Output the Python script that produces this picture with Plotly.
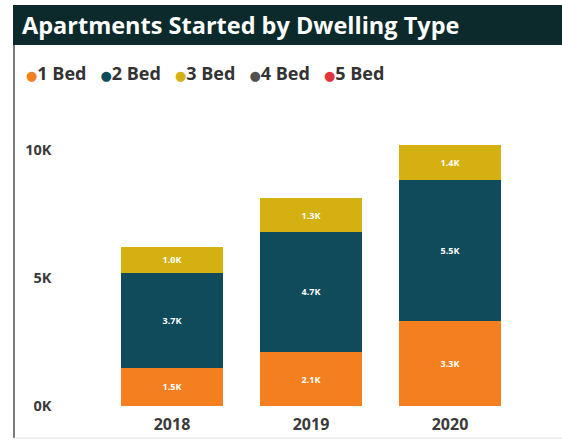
import plotly.graph_objects as go

# Apartment starts by dwelling type, per year (units)
years = ["2018", "2019", "2020"]
series_names = ["1 Bed", "2 Bed", "3 Bed", "4 Bed", "5 Bed"]
bed1 = [1500, 2100, 3300]
bed2 = [3700, 4700, 5500]
bed3 = [1000, 1300, 1400]
bed4 = [0, 0, 0]
bed5 = [0, 0, 0]
y_tick_vals = [0, 5000, 10000]
y_tick_text = ["0K", "5K", "10K"]

colors = ["#F47F1F", "#0F4B5B", "#D4B111", "#505050", "#E0353B"]
W, H = 562, 441

fig = go.Figure()
for name, vals, col in zip(series_names, [bed1, bed2, bed3, bed4, bed5], colors):
    labels = [f"{v / 1000:.1f}K" if v > 0 else "" for v in vals]
    fig.add_trace(go.Bar(
        x=years, y=vals, name=name, marker=dict(color=col, line=dict(width=0)),
        text=labels, textposition="inside", insidetextanchor="middle",
        textangle=0, textfont=dict(color="white", size=9, family="Open Sans", weight=700),
        showlegend=False,
    ))

# plot area in pixels
px_l, px_r, px_top, px_bot = 102.5, 519.5, 124, 406

fig.update_layout(
    width=W, height=H, barmode="stack", bargap=0.26,
    margin=dict(l=0, r=0, t=0, b=0),
    paper_bgcolor="white", plot_bgcolor="white",
    font=dict(family="Open Sans", color="#333333"),
    xaxis=dict(domain=[px_l / W, px_r / W], automargin=False,
               showgrid=False, showline=False, ticks="", ticklabelstandoff=7,
               tickfont=dict(size=16, color="#3a3a3a", weight=700)),
    yaxis=dict(domain=[1 - px_bot / H, 1 - px_top / H], automargin=False,
               range=[0, 11000], showgrid=False, zeroline=False, showline=False,
               tickvals=y_tick_vals, ticktext=y_tick_text, ticklabelstandoff=50,
               tickfont=dict(size=14.5, color="#3a3a3a", weight=700)),
)

# header band with title
fig.add_shape(type="rect", xref="paper", yref="paper",
              x0=13 / W, x1=1, y0=1 - 45 / H, y1=1 - 5 / H,
              fillcolor="#0C2A2B", line=dict(width=0), layer="below")
fig.add_annotation(xref="paper", yref="paper", x=20 / W, y=1 - 25 / H,
                   xanchor="left", yanchor="middle", showarrow=False,
                   text="<b>Apartments Started by Dwelling Type</b>",
                   font=dict(size=23.5, color="white", family="Open Sans"))

# frame lines on the left and bottom
fig.add_shape(type="line", xref="paper", yref="paper",
              x0=14 / W, x1=14 / W, y0=1 - 438 / H, y1=1 - 45 / H,
              line=dict(color="#7a7a7a", width=2))
fig.add_shape(type="line", xref="paper", yref="paper",
              x0=14 / W, x1=1, y0=1 - 438 / H, y1=1 - 438 / H,
              line=dict(color="#e2e2e2", width=1))

# legend row with round markers
legend_parts = []
for name, col in zip(series_names, colors):
    legend_parts.append(
        f"<span style='color:{col};font-family:DejaVu Sans;font-size:13px'>●</span><b>{name}</b>"
    )
fig.add_annotation(xref="paper", yref="paper", x=24 / W, y=1 - 73 / H,
                   xanchor="left", yanchor="middle", showarrow=False,
                   text="&nbsp;&nbsp;&nbsp;".join(legend_parts),
                   font=dict(size=18, color="#333333", family="Open Sans"))

fig.write_html("out.html")
